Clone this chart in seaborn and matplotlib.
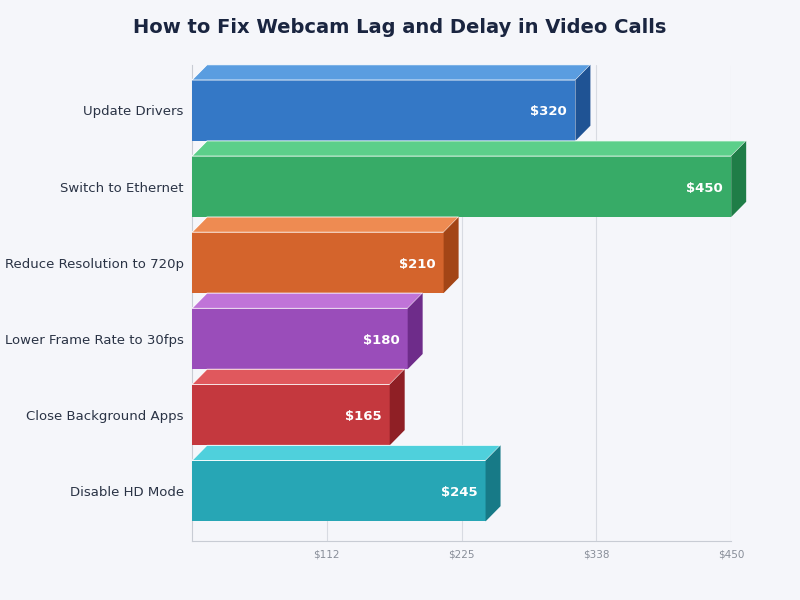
import matplotlib
matplotlib.use("Agg")
import matplotlib.pyplot as plt
import seaborn as sns
import pandas as pd
from matplotlib.patches import Polygon

fixes = ["Update Drivers", "Switch to Ethernet", "Reduce Resolution to 720p",
         "Lower Frame Rate to 30fps", "Close Background Apps", "Disable HD Mode"]
costs = [320, 450, 210, 180, 165, 245]
front = ["#3478c6", "#37ab67", "#d4642c", "#9a4dba", "#c4383e", "#27a6b5"]
top = ["#5a9de0", "#5ccf8a", "#ee8b52", "#c074d8", "#e0585d", "#4fd0dc"]
side = ["#1f5394", "#1f7d47", "#a34516", "#6e2c8a", "#8f1f25", "#177a87"]
ticks = [112.5, 225, 337.5, 450]

sns.set_theme(style="white")
bg = "#f5f6fa"
fig = plt.figure(figsize=(8, 6), dpi=100, facecolor=bg)
ax = fig.add_axes([0.24, 0.098, 0.674, 0.794], facecolor=bg)

df = pd.DataFrame({"fix": fixes, "cost": costs})
sns.barplot(data=df, x="cost", y="fix", hue="fix", palette=front, legend=False,
            orient="h", width=0.8, ax=ax, saturation=1, edgecolor="none", zorder=3)

ax.set_xlim(0, 450)
ax.set_ylim(5.66, -0.6)
dx = 12.5   # depth in x data units (~15px)
dy = 0.2    # depth in y category units (~15px)
h = 0.4
for i, v in enumerate(costs):
    ax.add_patch(Polygon([(0, i - h), (dx, i - h - dy), (v + dx, i - h - dy), (v, i - h)],
                         closed=True, facecolor=top[i], edgecolor="white", lw=0.6,
                         clip_on=False, zorder=3))
    ax.add_patch(Polygon([(v, i - h), (v + dx, i - h - dy), (v + dx, i + h - dy), (v, i + h)],
                         closed=True, facecolor=side[i], edgecolor="none",
                         clip_on=False, zorder=3))
    ax.text(v - 7, i + 0.02, f"${v}", ha="right", va="center", color="white",
            fontsize=9.5, fontweight="bold", zorder=4)

ax.set_xticks(ticks)
ax.set_xticklabels(["$112", "$225", "$338", "$450"], fontsize=7.5, color="#888e99")
ax.tick_params(axis="y", labelsize=9.5, labelcolor="#2a3345", length=0, pad=6)
ax.tick_params(axis="x", length=0, pad=6)
ax.grid(axis="x", color="#d8dbe2", lw=0.8, zorder=0)
ax.set_xlabel("")
ax.set_ylabel("")
for s in ["top", "right"]:
    ax.spines[s].set_visible(False)
for s in ["left", "bottom"]:
    ax.spines[s].set_color("#c8ccd4")
    ax.spines[s].set_linewidth(0.8)

fig.suptitle("How to Fix Webcam Lag and Delay in Video Calls", x=0.5, y=0.97,
             fontsize=14, fontweight="bold", color="#1a2540")
fig.savefig("out.png", dpi=100, facecolor=bg)
